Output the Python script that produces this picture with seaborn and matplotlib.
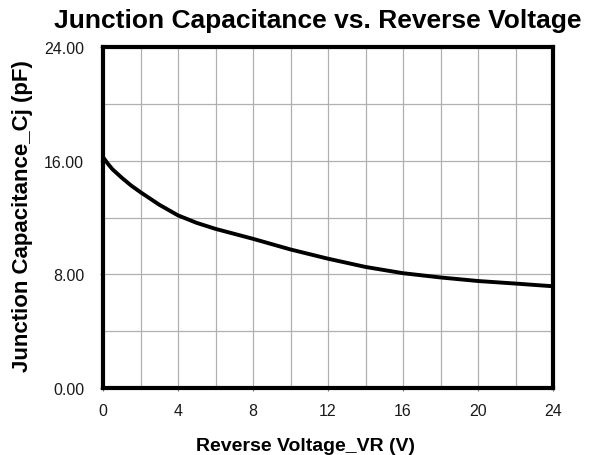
import matplotlib
matplotlib.use("Agg")
import matplotlib.pyplot as plt
import seaborn as sns
import pandas as pd
from matplotlib.ticker import MultipleLocator

# Dados
tensao_vr = [0, 0.25, 0.5, 1, 1.5, 2, 3, 4, 5, 6, 7, 8, 10, 12, 14, 16, 18, 20, 22, 24]
capacitancia_cj = [16.25, 15.8, 15.4, 14.8, 14.25, 13.78, 12.9, 12.15, 11.62, 11.2, 10.85, 10.5,
                   9.75, 9.1, 8.52, 8.08, 7.78, 7.53, 7.35, 7.16]

x_ticks = [0, 4, 8, 12, 16, 20, 24]
y_ticks = [0, 8, 16, 24]
y_tick_labels = ["0.00", "8.00", "16.00", "24.00"]

df = pd.DataFrame({"VR": tensao_vr, "Cj": capacitancia_cj})

sns.set_theme(style="white")
plt.rcParams['font.family'] = ['Liberation Sans', 'DejaVu Sans']
plt.rcParams['text.color'] = 'black'

fig = plt.figure(figsize=(5.94, 4.56), dpi=100)
ax = fig.add_axes([103 / 594, 1 - 389 / 456, 450 / 594, 341 / 456])

sns.lineplot(data=df, x="VR", y="Cj", ax=ax, color="black", linewidth=2.8)

ax.set_xlim(0, 24)
ax.set_ylim(0, 24)
ax.set_xticks(x_ticks)
ax.set_yticks(y_ticks)
ax.set_yticklabels(y_tick_labels)
ax.xaxis.set_minor_locator(MultipleLocator(2))
ax.yaxis.set_minor_locator(MultipleLocator(4))
ax.grid(True, which="both", color="#b0b0b0", linewidth=0.9)
ax.set_axisbelow(True)

for lado in ["left", "right", "top", "bottom"]:
    ax.spines[lado].set_visible(True)
    ax.spines[lado].set_color("black")
    ax.spines[lado].set_linewidth(3)

ax.tick_params(which="major", direction="out", length=2.5, width=0.8, color="#777777",
               labelsize=11.5, labelcolor="#1a1a1a", bottom=True, left=True)
ax.tick_params(axis="y", pad=11)
ax.tick_params(axis="x", pad=8)
ax.tick_params(which="minor", length=0)

ax.set_xlabel("Reverse Voltage_VR (V)", fontsize=14, fontweight="bold", color="black")
ax.set_ylabel("Junction Capacitance_Cj (pF)", fontsize=16, fontweight="bold", color="black")
ax.xaxis.set_label_coords(0.449, -0.145)
ax.yaxis.set_label_coords(-0.155, 0.507)
fig.text(0.535, 0.955, "Junction Capacitance vs. Reverse Voltage", ha="center", va="center",
         fontsize=19, fontweight="bold", color="black")

fig.savefig("out.png", dpi=100)
